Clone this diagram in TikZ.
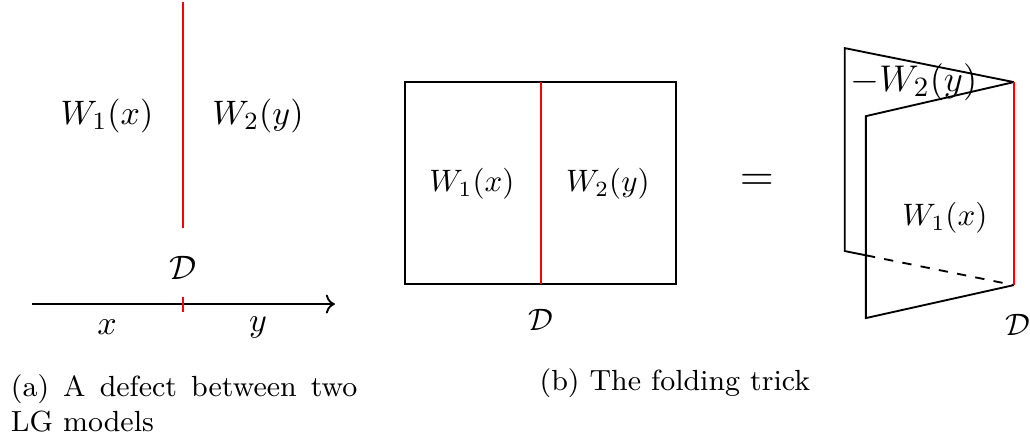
\documentclass[tikz,border=0pt]{standalone}
\usepackage{amsmath,amssymb}
\usetikzlibrary{arrows.meta,calc,positioning}
\begin{document}
\begin{tikzpicture}[semithick,
      dfct/.style={red},
      big/.style={font=\fontsize{10.8}{13}\selectfont},
      captxt/.style={inner sep=0pt,font=\fontsize{9.4}{11.3}\selectfont}]
    \useasboundingbox (0,0) rectangle (11.68,4.99);
    % (a) defect between two models
    \coordinate (dtop) at (2.075,4.966);
    \coordinate (dbot) at (2.075,2.404);
    \draw[dfct] (dtop)--(dbot);
    \node[big] (w1a) at (1.213,3.673) {$W_1(x)$};
    \node[big] (w2a) at (2.925,3.673) {$W_2(y)$};
    \node[big] (da) at (2.075,1.95) {$\mathcal{D}$};
    \coordinate (xs) at (0.363,1.542);
    \coordinate (xe) at (3.798,1.542);
    \draw[->] (xs)--(xe);
    \coordinate (tu) at (2.075,1.621);
    \coordinate (tl) at (2.075,1.451);
    \draw[dfct] (tu)--(tl);
    \node[big] (xa) at (1.213,1.281) {$x$};
    \node[big] (ya) at (2.925,1.281) {$y$};
    \node[captxt,anchor=north west,text width=3.93cm,align=justify] (capa) at (0.113,0.748)
      {(a) A defect between two LG models};
    % (b) folding trick
    \coordinate (r1) at (4.592,4.059);
    \coordinate (r2) at (7.664,1.769);
    \draw (r1) rectangle (r2);
    \coordinate (mt) at (6.134,4.059);
    \coordinate (mb) at (6.134,1.769);
    \draw[dfct] (mt)--(mb);
    \node (w1b) at (5.351,2.902) {$W_1(x)$};
    \node (w2b) at (6.893,2.902) {$W_2(y)$};
    \node (db) at (6.134,1.361) {$\mathcal{D}$};
    \node (eq) at (8.583,2.925) {\Large $=$};
    % folded sheet
    \coordinate (A) at (9.580,4.444);
    \coordinate (B) at (11.497,4.059);
    \coordinate (C) at (11.497,1.757);
    \coordinate (E) at (9.580,2.143);
    \coordinate (F) at (9.819,3.673);
    \coordinate (G) at (9.819,1.383);
    \coordinate (I) at ($(E)!0.1247!(C)$);
    \draw (B)--(A)--(E)--(I);
    \draw[dashed] (I)--(C);
    \draw (B)--(F)--(G)--(C);
    \draw[dfct] (B)--(C);
    \node[font=\fontsize{12.2}{14}\selectfont] (w2c) at (10.363,4.059) {$-W_2(y)$};
    \node (w1c) at (10.714,2.517) {$W_1(x)$};
    \node (dc) at (11.542,1.304) {$\mathcal{D}$};
    \node[captxt,anchor=base] (capb) at (7.653,0.567) {(b) The folding trick};
  \end{tikzpicture}
\end{document}
